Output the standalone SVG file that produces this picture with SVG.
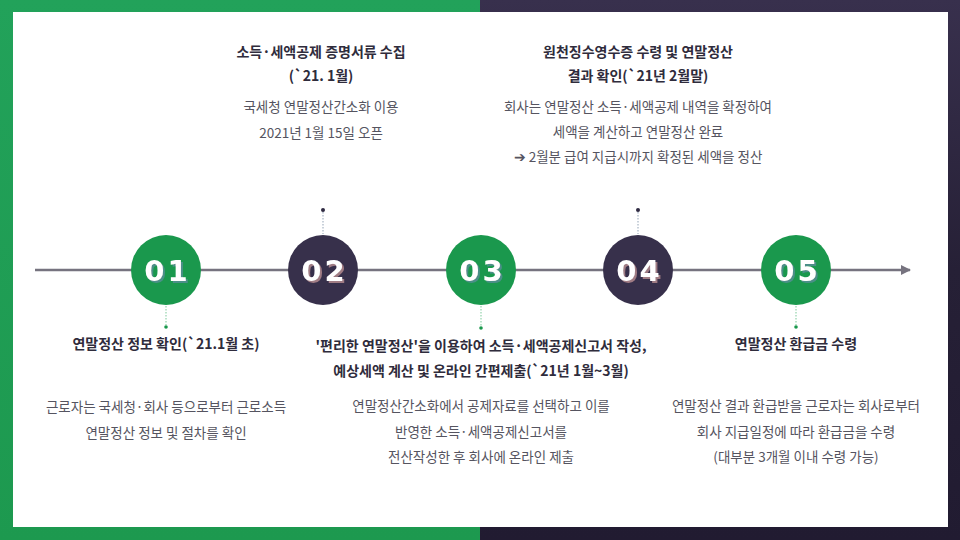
<svg xmlns="http://www.w3.org/2000/svg" width="960" height="540" viewBox="0 0 960 540">
<defs>
<linearGradient id="gL" x1="0" y1="0" x2="0" y2="1"><stop offset="0" stop-color="#22a25a"/><stop offset="1" stop-color="#1d994f"/></linearGradient>
<linearGradient id="gR" x1="0" y1="0" x2="0" y2="1"><stop offset="0" stop-color="#38304d"/><stop offset="0.5" stop-color="#262036"/><stop offset="1" stop-color="#211b31"/></linearGradient>
<filter id="shG" x="-20%" y="-20%" width="140%" height="140%"><feDropShadow dx="2" dy="2" stdDeviation="0" flood-color="#4c8f88" flood-opacity="1"/></filter>
<filter id="shK" x="-20%" y="-20%" width="140%" height="140%"><feDropShadow dx="2" dy="2" stdDeviation="0" flood-color="#a07c84" flood-opacity="1"/></filter>
<marker id="arr" viewBox="0 0 10 10" refX="9" refY="5" markerWidth="4" markerHeight="4" orient="auto" markerUnits="strokeWidth"><path d="M0,0 L10,5 L0,10 z" fill="#76737f"/></marker>
<style>
.t{font-family:"Noto Sans CJK KR","Noto Sans",sans-serif;font-size:14px;font-weight:700;fill:#2f2c3c;text-anchor:middle}
.d{font-family:"Noto Sans CJK KR","Noto Sans",sans-serif;font-size:13.5px;font-weight:400;fill:#555460;text-anchor:middle}
.num{font-family:"DejaVu Sans",sans-serif;font-size:29px;font-weight:900;text-anchor:middle;letter-spacing:3px;fill:#ffffff}
.g{fill:#1a984d}
.k{fill:#37304b}
.dotb{stroke:#a8dcbc;stroke-width:1.5;stroke-dasharray:1.5 1.5}
.dott{stroke:#b8c2ce;stroke-width:1.5;stroke-dasharray:1.5 1.5}
</style>
</defs>
<rect x="0" y="0" width="480" height="540" fill="url(#gL)"/>
<rect x="480" y="0" width="480" height="540" fill="url(#gR)"/>
<rect x="13" y="12" width="935" height="515" fill="#ffffff"/>

<g id="connectors">
<line x1="35" y1="270" x2="910" y2="270" stroke="#76737f" stroke-width="2.5" marker-end="url(#arr)"/>
<line class="dotb" x1="166" y1="306" x2="166" y2="325"/>
<circle cx="166" cy="327" r="1.8" fill="#1a984d"/>
<line class="dott" x1="323" y1="212" x2="323" y2="234"/>
<circle cx="323" cy="210" r="2" fill="#2f2a42"/>
<line class="dotb" x1="481" y1="306" x2="481" y2="326"/>
<circle cx="481" cy="328" r="1.8" fill="#1a984d"/>
<line class="dott" x1="638" y1="212" x2="638" y2="234"/>
<circle cx="638" cy="210" r="2" fill="#2f2a42"/>
<line class="dotb" x1="796" y1="306" x2="796" y2="325"/>
<circle cx="796" cy="327" r="1.8" fill="#1a984d"/>
</g>

<g id="n01">
<circle class="g" cx="166" cy="270" r="35"/>
<text class="num" x="167.5" y="281" filter="url(#shG)">01</text>
<text class="t" x="166" y="349">연말정산 정보 확인(`21.1월 초)</text>
<text class="d" x="166" y="412">근로자는 국세청·회사 등으로부터 근로소득</text>
<text class="d" x="166" y="438">연말정산 정보 및 절차를 확인</text>
</g>

<g id="n02">
<circle class="k" cx="323" cy="270" r="35"/>
<text class="num" x="324.5" y="281" filter="url(#shK)">02</text>
<text class="t" x="321" y="57">소득·세액공제 증명서류 수집</text>
<text class="t" x="321" y="81">(`21. 1월)</text>
<text class="d" x="321" y="112">국세청 연말정산간소화 이용</text>
<text class="d" x="321" y="138">2021년 1월 15일 오픈</text>
</g>

<g id="n03">
<circle class="g" cx="481" cy="270" r="35"/>
<text class="num" x="482.5" y="281" filter="url(#shG)">03</text>
<text class="t" x="481" y="351">'편리한 연말정산'을 이용하여 소득·세액공제신고서 작성,</text>
<text class="t" x="481" y="376">예상세액 계산 및 온라인 간편제출(`21년 1월~3월)</text>
<text class="d" x="481" y="411">연말정산간소화에서 공제자료를 선택하고 이를</text>
<text class="d" x="481" y="437">반영한 소득·세액공제신고서를</text>
<text class="d" x="481" y="462">전산작성한 후 회사에 온라인 제출</text>
</g>

<g id="n04">
<circle class="k" cx="638" cy="270" r="35"/>
<text class="num" x="639.5" y="281" filter="url(#shK)">04</text>
<text class="t" x="638" y="57">원천징수영수증 수령 및 연말정산</text>
<text class="t" x="638" y="81">결과 확인(`21년 2월말)</text>
<text class="d" x="638" y="112">회사는 연말정산 소득·세액공제 내역을 확정하여</text>
<text class="d" x="638" y="137">세액을 계산하고 연말정산 완료</text>
<text class="d" x="638" y="162">➔ 2월분 급여 지급시까지 확정된 세액을 정산</text>
</g>

<g id="n05">
<circle class="g" cx="796" cy="270" r="35"/>
<text class="num" x="797.5" y="281" filter="url(#shG)">05</text>
<text class="t" x="796" y="349">연말정산 환급금 수령</text>
<text class="d" x="796" y="411">연말정산 결과 환급받을 근로자는 회사로부터</text>
<text class="d" x="796" y="437">회사 지급일정에 따라 환급금을 수령</text>
<text class="d" x="796" y="462">(대부분 3개월 이내 수령 가능)</text>
</g>
</svg>
